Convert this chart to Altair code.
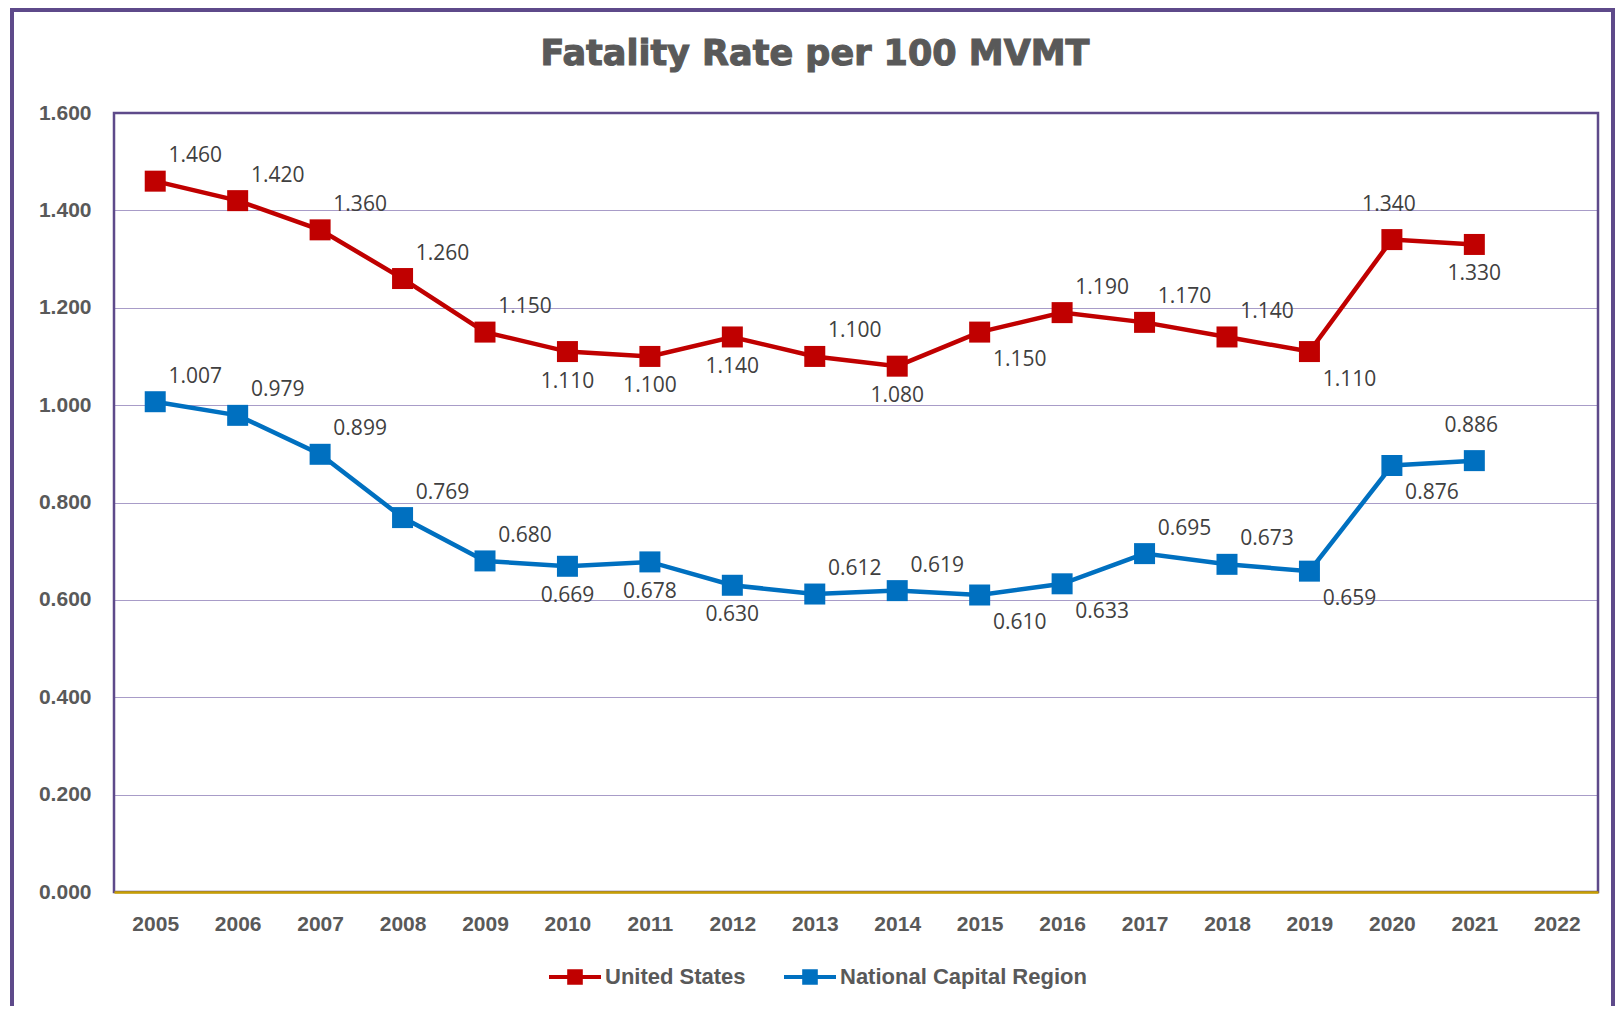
import altair as alt
import pandas as pd

years = [str(y) for y in range(2005, 2023)]
us_values = [1.460, 1.420, 1.360, 1.260, 1.150, 1.110, 1.100, 1.140, 1.100,
             1.080, 1.150, 1.190, 1.170, 1.140, 1.110, 1.340, 1.330]
ncr_values = [1.007, 0.979, 0.899, 0.769, 0.680, 0.669, 0.678, 0.630, 0.612,
              0.619, 0.610, 0.633, 0.695, 0.673, 0.659, 0.876, 0.886]
series_names = ["United States", "National Capital Region"]
series_colors = ["#C00000", "#0070C0"]
y_ticks = [0.0, 0.2, 0.4, 0.6, 0.8, 1.0, 1.2, 1.4, 1.6]
title_text = "Fatality Rate per 100 MVMT"

# label placement codes (style only)
us_label_pos = ["ur", "ur", "ur", "ur", "ur", "b", "b", "b", "ur", "b",
                "br", "ur", "ur", "ur", "br", "a", "b"]
ncr_label_pos = ["ur", "ur", "ur", "ur", "ur", "b", "b", "b", "ur", "ur",
                 "br", "br", "ur", "ur", "br", "br", "a"]
offsets = {"ur": (40, -25), "b": (0, 30), "br": (40, 28), "a": (-3, -35)}

W, H = 1484, 779
PURPLE = "#5E4A8A"
GRID = "#A89CC8"
GOLD = "#C9A000"
TXT = "#595959"

rows = []
for name, vals, pos in [(series_names[0], us_values, us_label_pos),
                        (series_names[1], ncr_values, ncr_label_pos)]:
    for yr, v, p in zip(years, vals, pos):
        rows.append({"year": yr, "value": v, "series": name, "line": name, "pos": p})
df = pd.DataFrame(rows)

x_enc = alt.X("year:O", scale=alt.Scale(domain=years, type="point", padding=0.5),
              axis=alt.Axis(title=None, labelAngle=0, ticks=False, labelPadding=21,
                            labelFont="Liberation Sans", labelFontSize=21,
                            labelFontWeight="bold", labelColor=TXT,
                            domain=True, domainColor=GOLD, domainWidth=2.5,
                            grid=False, zindex=1))
y_enc = alt.Y("value:Q", scale=alt.Scale(domain=[0, 1.6], nice=False, zero=True),
              axis=alt.Axis(title=None, values=y_ticks, format=".3f", ticks=False,
                            labelPadding=23, labelFont="Liberation Sans",
                            labelFontSize=21, labelFontWeight="bold", labelColor=TXT,
                            domain=False, grid=True, gridColor=GRID, gridWidth=1.2))

base = alt.Chart(df)

one = pd.DataFrame({"k": [0]})
plot_border = alt.Chart(one).mark_rect(filled=False, stroke=PURPLE, strokeWidth=2.5).encode(
    x=alt.value(0), x2=alt.value(W), y=alt.value(0), y2=alt.value(H))
outer_border = alt.Chart(one).mark_rect(filled=False, stroke=PURPLE, strokeWidth=4).encode(
    x=alt.value(-102), x2=alt.value(1499), y=alt.value(-103), y2=alt.value(1000))
title = alt.Chart(one).mark_text(text=title_text, font="DejaVu Sans", fontWeight="bold",
                                 fontSize=35, color=TXT, stroke=TXT, strokeWidth=1.1,
                                 align="center", baseline="alphabetic").encode(
    x=alt.value(701), y=alt.value(-48))

lines = base.mark_line(strokeWidth=4.5).encode(
    x=x_enc, y=y_enc,
    stroke=alt.Stroke("line:N", scale=alt.Scale(domain=series_names, range=series_colors),
                      legend=None),
    detail="line:N")

legend_symbol = ("M-1,-0.08L-0.3,-0.08L-0.3,-0.3L0.3,-0.3L0.3,-0.08L1,-0.08L1,0.08"
                 "L0.3,0.08L0.3,0.3L-0.3,0.3L-0.3,0.08L-1,0.08Z")
points = base.mark_square(size=441, opacity=1).encode(
    x=x_enc, y=y_enc,
    fill=alt.Fill("series:N", scale=alt.Scale(domain=series_names, range=series_colors),
                  legend=alt.Legend(title=None, orient="none", legendX=435, legendY=838,
                                    direction="horizontal", symbolType=legend_symbol,
                                    symbolSize=2704, symbolStrokeWidth=0,
                                    columnPadding=38, labelOffset=4, labelLimit=500,
                                    labelFont="Liberation Sans", labelFontSize=22,
                                    labelFontWeight="bold", labelColor=TXT,
                                    symbolOpacity=1)))

labels = []
for code, (dx, dy) in offsets.items():
    labels.append(base.transform_filter(alt.datum.pos == code).mark_text(
        dx=dx, dy=dy, font="Open Sans", fontSize=21, color="#404040",
        align="center", baseline="middle").encode(
        x=x_enc, y=y_enc, text=alt.Text("value:Q", format=".3f")))

chart = alt.layer(outer_border, plot_border, lines, points, *labels, title).properties(
    width=W, height=H,
    autosize=alt.AutoSizeParams(type="none"),
    padding={"left": 106, "top": 105, "right": 18, "bottom": 114},
).resolve_scale(fill="independent", stroke="independent").configure_view(
    stroke=None).configure(background="white")

chart.save("out.html", embed_options={"renderer": "svg", "actions": False})
